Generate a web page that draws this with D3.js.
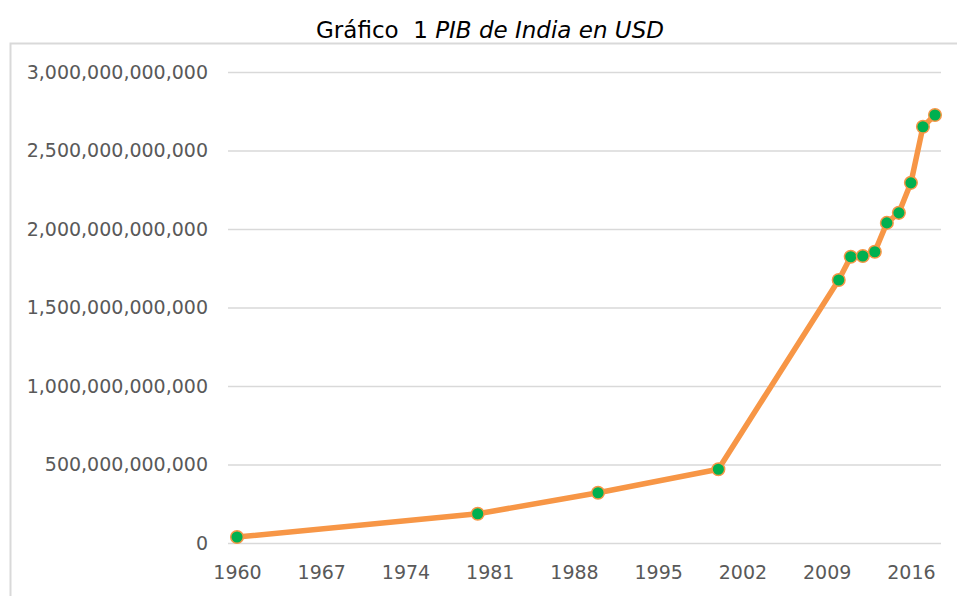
<!DOCTYPE html>
<html>
<head>
<meta charset="utf-8">
<script src="https://cdn.jsdelivr.net/npm/d3@7"></script>
<style>
  body { margin: 0; background: #fff; }
  svg { display: block; font-family: "DejaVu Sans", sans-serif; }
</style>
</head>
<body>
<div id="chart"></div>
<script>
// PIB de India (USD)
const years = [1960, 1980, 1990, 2000, 2010, 2011, 2012, 2013, 2014, 2015, 2016, 2017, 2018];
const gdp = [38e9, 186e9, 320e9, 470e9, 1675e9, 1823e9, 1828e9, 1855e9, 2039e9, 2103e9, 2294e9, 2651e9, 2726e9];
const yearTicks = [1960, 1967, 1974, 1981, 1988, 1995, 2002, 2009, 2016];
const gdpTicks = [0, 500e9, 1000e9, 1500e9, 2000e9, 2500e9, 3000e9];

const W = 957, H = 596;
const margin = { top: 72, right: 16, bottom: 53, left: 231 };

const svg = d3.select("#chart").append("svg")
    .attr("width", W)
    .attr("height", H);

// frame (top + left edge of the chart area)
svg.append("path")
    .attr("d", `M10.5,${H} V43.5 H${W}`)
    .attr("fill", "none")
    .attr("stroke", "#d9d9d9")
    .attr("stroke-width", 2);

// title
const title = svg.append("text")
    .attr("x", 490)
    .attr("y", 38)
    .attr("text-anchor", "middle")
    .attr("font-size", 23)
    .attr("fill", "#000")
    .style("white-space", "pre");
title.append("tspan").text("Gráfico  1 ");
title.append("tspan").attr("font-style", "italic").text("PIB de India en USD");

const x = d3.scaleLinear().domain([1959.5, 2018.5]).range([margin.left, W - margin.right]);
const y = d3.scaleLinear().domain([0, 3000e9]).range([H - margin.bottom, margin.top]);

// y axis with gridlines
const gy = svg.append("g")
    .attr("transform", `translate(${margin.left - 3},0)`)
    .call(d3.axisLeft(y).tickValues(gdpTicks).tickFormat(d3.format(",.0f"))
        .tickSize(-(W - margin.right - margin.left + 3)).tickPadding(20));
gy.select(".domain").remove();
gy.selectAll(".tick line").attr("stroke", "#d9d9d9").attr("stroke-width", 1.5);
gy.selectAll(".tick text").attr("fill", "#595959").attr("font-size", 19)
    .attr("font-family", "DejaVu Sans, sans-serif");

// x axis
const gx = svg.append("g")
    .attr("transform", `translate(0,${H - margin.bottom})`)
    .call(d3.axisBottom(x).tickValues(yearTicks).tickFormat(d3.format("d")).tickSize(0).tickPadding(23));
gx.select(".domain").remove();
gx.selectAll(".tick text").attr("fill", "#595959").attr("font-size", 19)
    .attr("font-family", "DejaVu Sans, sans-serif");

const pts = years.map((yr, i) => ({ year: yr, value: gdp[i] }));

svg.append("path")
    .datum(pts)
    .attr("fill", "none")
    .attr("stroke", "#f79646")
    .attr("stroke-width", 5.5)
    .attr("stroke-linejoin", "round")
    .attr("d", d3.line().x(d => x(d.year)).y(d => y(d.value)));

svg.append("g")
    .selectAll("circle")
    .data(pts)
    .join("circle")
    .attr("cx", d => x(d.year))
    .attr("cy", d => y(d.value))
    .attr("r", 6.3)
    .attr("fill", "#00b050")
    .attr("stroke", "#f79646")
    .attr("stroke-width", 1.5);
</script>
</body>
</html>
